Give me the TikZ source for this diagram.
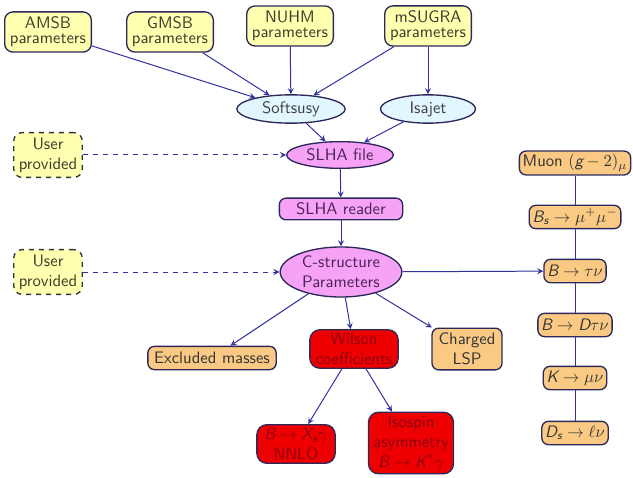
\documentclass[tikz,border=0pt]{standalone}
\usepackage{tikz}
\usetikzlibrary{arrows,shapes.geometric}
\usepackage{amsmath}

\definecolor{paramfill}{RGB}{255,255,176}
\definecolor{paramtext}{RGB}{60,60,45}
\definecolor{framecol}{RGB}{45,40,90}
\definecolor{linkcol}{RGB}{50,50,160}
\definecolor{genfill}{RGB}{226,246,255}
\definecolor{slhafill}{RGB}{246,162,246}
\definecolor{slhatext}{RGB}{75,35,85}
\definecolor{obsfill}{RGB}{250,202,132}
\definecolor{wilsonfill}{RGB}{238,0,0}
\definecolor{wilsontext}{RGB}{140,0,20}

%serifenlose kursive Buchstaben in Formeln
\newcommand{\sv}[1]{\text{\slshape #1}}

\tikzset{
  params/.style={rectangle,rounded corners=5pt,draw=framecol,fill=paramfill,text=paramtext,
    line width=0.8pt,align=center,inner sep=3pt,minimum width=52pt,minimum height=24pt},
  userbox/.style={params,dashed,draw=black!80,minimum width=41pt,minimum height=25pt},
  generator/.style={ellipse,draw=framecol,fill=genfill,text=black!75,line width=0.8pt,
    inner sep=0pt,minimum height=17pt},
  slha/.style={ellipse,draw=framecol,fill=slhafill,text=slhatext,line width=0.8pt,
    inner sep=0pt,align=center},
  reader/.style={rectangle,rounded corners=4pt,draw=framecol,fill=slhafill,text=slhatext,
    line width=0.8pt,minimum width=74pt,minimum height=13pt,inner sep=1pt},
  obsbox/.style={rectangle,rounded corners=4pt,draw=framecol,fill=obsfill,text=black!80,
    line width=0.8pt,align=center,inner sep=2pt,minimum height=14pt},
  wilsonbox/.style={rectangle,rounded corners=6pt,draw=framecol,fill=wilsonfill,text=wilsontext,
    line width=0.8pt,align=center,inner sep=2pt},
  link/.style={draw=linkcol,line width=0.6pt,->},
  userlink/.style={link,dashed},
}

\begin{document}
\begin{tikzpicture}[x=0.6pt,y=-0.6pt,font=\sffamily,>=stealth]
\useasboundingbox (0,0) rectangle (633,477);

%Spektrum-Rechner oben
\node[params] (amsb) at (48,32) {AMSB\\[-3pt]parameters};
\node[params] (gmsb) at (170,32) {GMSB\\[-3pt]parameters};
\node[params] (nuhm) at (290,26) {NUHM\\[-3pt]parameters};
\node[params] (msugra) at (428,26) {mSUGRA\\[-3pt]parameters};

\node[generator,minimum width=65pt] (softsusy) at (291,109) {Softsusy};
\node[generator,minimum width=57pt] (isajet) at (428,109) {Isajet};

\node[slha,minimum width=64pt,minimum height=16pt] (slhafile) at (340,155) {SLHA file};
\node[reader] (slhareader) at (341,209) {SLHA reader};
\node[slha,minimum width=73pt,minimum height=30pt] (cstruct) at (341,272) {C-structure\\Parameters};

\node[userbox] (user1) at (48,155) {User\\provided};
\node[userbox] (user2) at (48,272) {User\\provided};

%Observablen rechts
\foreach \name/\y/\txt in {muon/163/{Muon $(\sv{g}-2)_\mu$},bsmumu/217/{$\sv{B}_{\sv{s}}\to\mu^+\mu^-$},
    btaunu/271/{$\sv{B}\to\tau\nu$},bdtaunu/325/{$\sv{B}\to \sv{D}\tau\nu$},kmunu/378/{$\sv{K}\to\mu\nu$},
    dslnu/433/{$\sv{D}_{\sv{s}}\to\ell\nu$}}{
  \node[obsbox] (\name) at (575,\y) {\txt};
}
\foreach \a/\b in {muon/bsmumu,bsmumu/btaunu,btaunu/bdtaunu,bdtaunu/kmunu,kmunu/dslnu}{
  \draw[draw=linkcol,line width=0.6pt] (\a) -- (\b);
}

\node[obsbox,minimum width=77pt] (excluded) at (212,358) {Excluded masses};
\node[wilsonbox,minimum width=53pt,minimum height=23pt] (wilson) at (354,349) {Wilson\\coefficients};
\node[obsbox,minimum width=42pt,minimum height=25pt] (charged) at (467,349) {Charged\\LSP};
\node[wilsonbox,minimum width=47pt,minimum height=23pt] (bsgamma) at (296,444) {$\sv{B}\to \sv{X}_{\sv{s}}\gamma$\\NNLO};
\node[wilsonbox,minimum width=51pt,minimum height=34pt] (isospin) at (411,443) {Isospin\\asymmetry\\$\sv{B}\to \sv{K}^*\gamma$};

\draw[link] (amsb) -- (softsusy);
\draw[link] (gmsb) -- (softsusy);
\draw[link] (nuhm) -- (softsusy);
\draw[link] (msugra) -- (softsusy);
\draw[link] (msugra) -- (isajet);
\draw[link] (softsusy) -- (slhafile);
\draw[link] (isajet) -- (slhafile);
\draw[userlink] (user1) -- (slhafile);
\draw[link] (slhafile) -- (slhareader);
\draw[link] (slhareader) -- (cstruct);
\draw[userlink] (user2) -- (cstruct);
\draw[link] (cstruct) -- (btaunu);
\draw[link] (cstruct) -- (excluded);
\draw[link] (cstruct) -- (wilson);
\draw[link] (cstruct) -- (charged);
\draw[link] (wilson) -- (bsgamma);
\draw[link] (wilson) -- (isospin);
\end{tikzpicture}
\end{document}
